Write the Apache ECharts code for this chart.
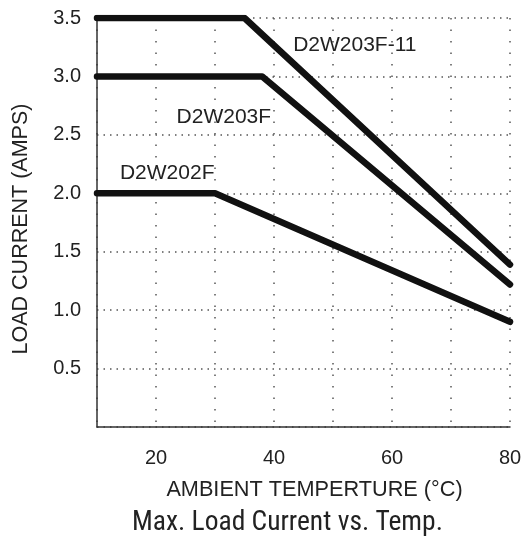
<!DOCTYPE html>
<html><head><meta charset="utf-8">
<script src="https://cdn.jsdelivr.net/npm/echarts@6/dist/echarts.min.js"></script>
<style>html,body{margin:0;padding:0;background:#fff}#c{width:526px;height:540px}</style>
</head><body><div id="c"></div>
<script>
var seriesNames = ['D2W203F-11', 'D2W203F', 'D2W202F'];
var d2w203f11 = [[10, 3.5], [35, 3.5], [80, 1.39]];
var d2w203f = [[10, 3.0], [38, 3.0], [80, 1.22]];
var d2w202f = [[10, 2.0], [30, 2.0], [80, 0.9]];
var labelPos = [[53.7, 3.27], [31.5, 2.65], [21.9, 2.17]];
var xTickLabels = [20, 40, 60, 80];
var yTickLabels = [0.5, 1.0, 1.5, 2.0, 2.5, 3.0, 3.5];

var font = "'Liberation Sans', Arial, sans-serif";
var narrow = "'Liberation Sans Narrow', 'Roboto Condensed', Roboto, sans-serif";
var datasets = [d2w203f11, d2w203f, d2w202f];
var chart = echarts.init(document.getElementById('c'), null, {renderer: 'canvas'});
chart.setOption({
  animation: false,
  backgroundColor: '#fff',
  grid: {left: 97, right: 16, top: 18, bottom: 113, containLabel: false},
  title: {
    text: 'Max. Load Current vs. Temp.',
    left: 132, top: 509, textStyle: {fontFamily: narrow, fontWeight: 'normal', fontSize: 27.5, color: '#222'}, padding: 0
  },
  xAxis: {
    type: 'value', min: 10, max: 80, interval: 10,
    name: 'AMBIENT TEMPERTURE (°C)', nameLocation: 'middle', nameGap: 52,
    nameTextStyle: {fontFamily: font, fontSize: 21.7, color: '#222', padding: [0, 0, 0, 22]},
    axisLine: {show: true, lineStyle: {color: '#333', width: 1.5}},
    axisTick: {show: false},
    axisLabel: {
      fontFamily: font, fontSize: 20, color: '#222', margin: 21,
      formatter: function (v) { return xTickLabels.indexOf(v) >= 0 ? String(v) : ''; }
    },
    splitLine: {show: true, lineStyle: {color: '#555', width: 1.5, type: [1.5, 10]}}
  },
  yAxis: {
    type: 'value', min: 0, max: 3.5, interval: 0.5,
    name: 'LOAD CURRENT (AMPS)', nameLocation: 'middle', nameGap: 65, nameRotate: 90,
    nameTextStyle: {fontFamily: font, fontSize: 21.5, color: '#222', padding: [0, 13, 0, 0]},
    axisLine: {show: true, lineStyle: {color: '#333', width: 1.5}},
    axisTick: {show: false},
    axisLabel: {
      fontFamily: font, fontSize: 20, color: '#222', margin: 16,
      formatter: function (v) {
        for (var i = 0; i < yTickLabels.length; i++) if (Math.abs(yTickLabels[i] - v) < 1e-6) return yTickLabels[i].toFixed(1);
        return '';
      }
    },
    splitLine: {show: true, lineStyle: {color: '#555', width: 1.5, type: [1.5, 5]}}
  },
  series: datasets.map(function (d, i) {
    return {
      name: seriesNames[i], type: 'line', data: d, symbol: 'none',
      lineStyle: {color: '#111', width: 6.5, cap: 'round', join: 'round'},
      z: 5,
      markPoint: {
        symbol: 'circle', symbolSize: 0,
        data: [{coord: labelPos[i], value: seriesNames[i]}],
        label: {show: true, position: 'inside', formatter: seriesNames[i], fontFamily: font, fontSize: 21, color: '#222'}
      }
    };
  })
});
</script></body></html>
